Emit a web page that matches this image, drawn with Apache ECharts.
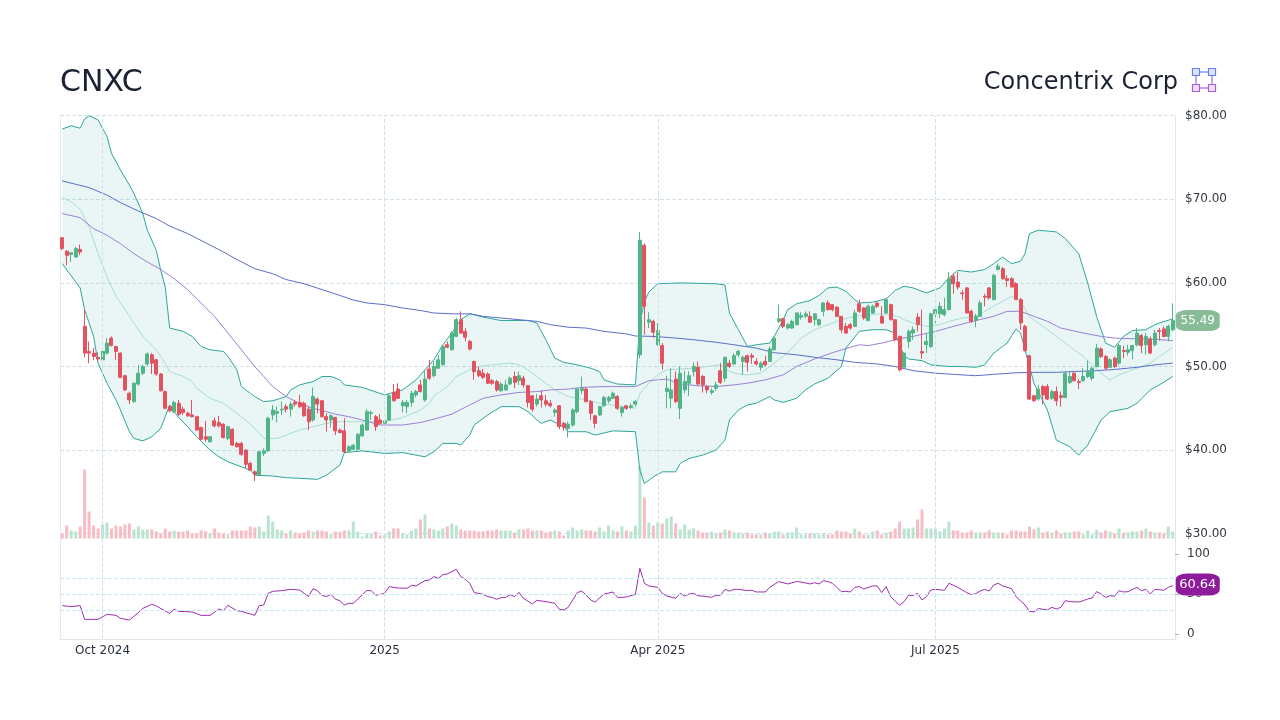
<!DOCTYPE html>
<html>
<head>
<meta charset="utf-8">
<title>CNXC</title>
<script src="https://cdn.jsdelivr.net/npm/echarts@6/dist/echarts.min.js"></script>
<style>
  html, body { margin: 0; padding: 0; background: #fff; }
  #chart { width: 1280px; height: 720px; }
</style>
</head>
<body>
<div id="chart"></div>
<script>
// trading calendar of the window
const startDate = '2024-09-18';
const holidays = ['2024-11-28', '2024-11-29', '2024-12-25', '2025-01-01', '2025-01-20',
  '2025-02-17', '2025-04-18', '2025-05-26', '2025-06-19', '2025-07-04', '2025-09-01'];
const tickLabels = [[9, 'Oct 2024'], [72, '2025'], [133, 'Apr 2025'], [195, 'Jul 2025']];

// [open, close, low, high]
const candles = [
  [65.4,64.1,63.9,65.5],[63.8,63.3,62.1,63.9],[63.4,63.6,62.5,63.7],[63.1,64.1,63.0,64.3],[64.0,63.7,63.3,64.6],
  [54.8,51.6,51.1,56.8],[51.8,51.6,50.4,53.0],[51.6,51.2,50.8,52.2],[51.1,50.9,50.6,51.7],[50.8,51.8,50.7,52.2],
  [51.6,52.8,51.4,53.4],[53.4,52.5,52.4,53.6],[52.4,51.8,50.8,52.4],[51.6,48.7,48.6,51.7],[48.9,47.2,47.1,49.0],
  [46.8,46.0,45.5,47.0],[45.8,48.0,45.7,48.1],[47.9,49.2,47.7,50.2],[49.2,50.0,49.0,50.2],[50.3,51.5,50.1,51.7],
  [51.4,50.4,49.1,51.6],[50.8,49.1,48.9,50.9],[49.1,47.1,47.0,49.2],[47.0,45.0,44.9,47.1],[45.2,44.7,44.5,45.4],
  [44.6,45.7,44.4,45.9],[45.6,44.3,44.1,46.0],[44.9,44.5,44.2,45.2],[44.4,44.1,44.0,44.6],[44.2,44.0,43.9,46.0],
  [44.0,42.4,42.3,44.1],[42.7,41.3,41.1,42.8],[41.6,41.3,41.0,43.5],[41.0,41.6,40.9,41.7],[43.5,42.9,42.7,43.9],
  [43.3,42.9,42.7,44.1],[43.1,41.5,41.4,43.2],[41.4,42.8,41.2,42.9],[42.5,40.6,40.5,42.6],[40.8,40.4,40.3,41.0],
  [40.8,39.5,39.3,41.0],[40.0,38.3,37.8,40.1],[38.4,37.6,37.5,38.6],[37.4,37.1,36.3,37.6],[37.0,39.8,37.0,39.9],
  [39.6,39.9,39.3,40.2],[39.9,43.8,39.8,44.0],[44.2,44.8,43.6,45.4],[44.4,44.6,43.3,45.2],[44.8,44.9,44.2,45.8],
  [45.2,44.9,44.5,45.5],[44.9,45.5,44.0,45.8],[45.7,45.5,45.2,46.0],[45.7,45.2,45.0,46.6],[45.6,44.1,44.0,45.8],
  [44.9,43.4,42.4,45.2],[43.6,46.4,43.4,47.5],[46.1,45.5,44.4,46.3],[45.9,44.0,43.9,46.0],[44.0,43.6,42.2,44.4],
  [43.6,44.1,42.7,44.3],[43.9,42.3,41.8,44.0],[42.4,42.1,42.0,42.6],[42.3,39.8,39.6,43.8],[39.9,40.4,39.7,40.6],
  [40.1,40.6,40.0,40.7],[40.1,41.9,40.0,42.0],[41.7,43.0,41.6,43.2],[42.4,44.6,42.3,44.9],[44.4,44.5,43.6,44.7],
  [44.0,42.8,42.3,44.2],[43.6,43.2,43.0,44.3],[43.2,43.5,43.1,43.7],[43.6,46.5,43.5,46.7],[46.9,45.9,45.8,47.9],
  [47.3,46.2,46.1,48.0],[45.3,45.7,44.5,46.0],[45.2,45.7,44.4,46.0],[45.7,46.8,45.2,47.1],[46.6,47.0,46.3,47.2],
  [47.8,47.0,46.9,48.4],[46.0,48.5,45.8,49.6],[49.7,48.6,48.4,50.8],[48.9,50.0,48.7,50.6],[49.8,50.8,49.7,51.4],
  [50.2,52.4,50.1,52.6],[52.6,52.3,52.2,53.0],[52.0,54.0,51.9,54.2],[53.6,55.6,53.5,55.8],[55.6,54.0,53.9,56.6],
  [54.2,53.5,53.0,54.6],[53.0,52.1,51.9,53.2],[50.6,49.4,48.4,50.7],[49.5,48.9,48.7,50.0],[49.2,48.7,48.5,49.7],
  [49.1,48.0,47.9,49.3],[48.3,48.0,47.8,48.5],[48.2,47.2,47.0,48.4],[47.1,47.9,47.0,48.1],[47.2,47.8,47.1,48.4],
  [47.9,48.6,47.8,48.8],[48.8,48.1,47.4,49.4],[48.3,48.9,47.8,49.4],[48.6,47.8,47.5,48.9],[47.7,45.7,45.1,47.8],
  [46.5,44.9,44.6,46.6],[45.5,46.1,45.2,46.7],[46.5,46.0,45.1,47.1],[45.9,45.5,45.2,46.6],[45.6,45.3,45.1,46.0],
  [44.5,44.8,44.0,45.0],[45.3,42.8,42.5,45.4],[43.2,42.7,42.3,43.4],[42.6,43.1,41.5,43.4],[43.0,44.8,42.8,45.0],
  [44.6,47.3,44.4,47.4],[47.1,47.4,46.7,48.8],[47.3,45.8,45.7,47.5],[45.8,44.4,43.6,46.0],[44.1,43.2,42.6,44.2],
  [44.2,45.2,44.1,45.3],[45.3,46.3,45.2,46.5],[45.9,46.3,45.6,46.5],[46.2,46.8,46.1,47.0],[46.4,45.0,44.8,46.6],
  [44.5,45.1,44.0,45.3],[45.3,45.0,44.8,45.4],[45.1,45.3,44.9,45.6],[45.5,45.8,45.3,46.0],[51.4,65.1,51.0,66.1],
  [64.5,57.2,53.8,64.7],[55.3,55.6,54.6,56.5],[55.4,54.1,53.4,55.6],[52.6,54.3,52.5,55.2],[52.5,50.4,49.6,52.8],
  [47.0,47.4,45.0,48.9],[46.2,47.2,45.0,49.8],[48.5,45.8,45.6,49.4],[45.0,49.2,43.7,50.0],[47.2,48.2,46.8,49.5],
  [48.0,48.9,46.5,49.4],[49.4,50.0,48.8,50.5],[49.9,47.9,47.8,50.6],[48.8,47.8,46.9,49.0],[47.6,47.2,46.8,47.8],
  [46.9,47.1,46.6,47.4],[47.4,47.8,47.1,48.2],[49.5,48.1,47.9,50.4],[48.6,51.1,48.2,51.2],[50.4,50.0,49.8,50.8],
  [50.3,51.3,50.2,51.6],[51.4,51.8,51.1,52.0],[50.6,51.1,49.0,51.3],[51.3,50.5,49.4,51.4],[51.3,51.1,50.3,51.6],
  [50.6,50.3,50.1,51.0],[49.9,50.4,49.5,50.6],[50.6,50.2,50.0,51.3],[50.6,52.1,50.6,52.4],[52.0,53.4,51.9,53.6],
  [55.4,55.7,55.2,57.4],[55.7,54.8,54.6,55.8],[54.6,55.0,54.4,55.2],[54.6,55.4,54.5,55.6],[55.0,56.4,54.9,56.5],
  [55.9,56.1,55.6,56.5],[56.0,56.3,55.8,56.6],[56.0,55.3,55.2,56.6],[55.6,56.3,54.9,56.4],[55.0,55.6,54.8,55.7],
  [56.6,57.6,56.0,57.7],[57.6,56.8,56.7,57.9],[57.4,56.8,56.6,57.5],[57.1,56.0,55.9,57.2],[56.0,54.4,54.0,56.0],
  [54.8,54.0,53.9,55.2],[55.0,54.6,54.4,55.2],[54.8,56.4,54.7,56.8],[57.5,56.6,56.4,58.0],[57.0,55.8,55.6,57.1],
  [55.5,57.2,55.4,57.4],[56.4,57.2,56.3,57.4],[57.6,57.2,57.0,57.7],[56.0,55.2,55.1,57.2],[56.4,58.0,56.3,58.0],
  [57.4,55.6,55.5,57.5],[55.6,53.2,53.0,55.6],[53.6,49.6,49.4,53.7],[49.9,51.6,49.9,51.7],[53.0,54.2,52.2,54.4],
  [54.0,54.4,53.2,54.8],[55.9,55.0,54.2,56.4],[51.8,51.6,50.9,56.8],[52.6,53.0,51.6,54.0],[52.4,56.3,52.2,56.4],
  [56.3,56.8,55.2,57.2],[56.3,57.2,55.8,57.7],[56.2,56.8,56.0,58.2],[56.8,60.5,56.8,61.3],[60.8,59.9,58.7,61.1],
  [60.1,59.5,59.2,61.3],[58.8,58.7,58.0,59.1],[59.4,56.4,56.4,59.5],[56.6,55.4,55.2,56.8],[55.5,56.0,54.7,56.3],
  [56.0,57.6,55.9,57.9],[58.4,58.3,57.2,58.7],[59.4,58.2,58.0,59.5],[58.0,60.9,57.9,61.1],[61.6,62.0,61.5,62.3],
  [61.7,60.5,60.4,61.9],[60.5,60.3,59.5,60.9],[60.5,59.5,59.5,60.7],[59.9,58.0,58.0,60.1],[58.0,55.2,54.4,58.2],
  [54.8,51.9,51.8,55.0],[51.3,46.1,46.0,51.4],[46.5,45.9,45.8,46.6],[46.1,47.3,45.9,47.8],[47.6,46.6,45.5,47.8],
  [47.6,46.1,46.0,47.9],[46.2,47.0,46.0,47.2],[47.0,45.9,45.3,47.6],[46.5,46.3,45.2,47.0],[46.3,49.2,46.2,49.4],
  [48.1,48.8,47.9,49.4],[49.2,48.3,48.2,49.4],[48.2,48.1,47.3,48.5],[48.3,48.8,48.2,49.8],[48.8,49.4,48.6,50.7],
  [48.6,49.8,48.3,50.0],[50.0,52.2,49.9,52.7],[52.1,51.2,51.0,52.3],[51.2,49.8,49.6,51.4],[49.9,50.8,49.8,51.0],
  [51.0,50.0,49.8,51.2],[50.4,52.5,50.2,52.7],[51.9,51.8,51.0,52.5],[51.7,52.0,51.3,52.6],[51.9,52.5,50.9,52.6],
  [52.6,54.0,52.4,54.6],[53.7,52.5,51.6,53.9],[52.6,53.6,51.4,54.0],[53.3,51.6,51.5,53.6],[52.6,54.0,52.4,54.4],
  [54.3,54.2,53.1,54.6],[54.5,53.6,53.5,54.8],[53.6,54.8,53.0,55.0],[54.4,55.49,54.2,57.55]
];

// thousand shares
const volumes = [
  250,650,400,350,600,3450,1350,650,500,700, 800,500,650,600,700,750,450,600,450,450,
  450,350,250,500,350,400,350,350,400,250, 250,400,350,250,500,300,250,200,400,400,
  400,400,600,550,600,350,1150,850,450,400, 250,400,300,250,300,400,350,400,400,350,
  200,350,350,400,400,850,350,100,250,250, 350,150,200,350,500,500,250,200,400,500,
  950,1200,500,450,400,500,600,750,650,450, 400,400,400,350,350,400,400,450,400,400,
  400,300,450,450,500,400,400,400,300,350, 400,350,150,400,550,400,450,400,400,350,
  550,350,650,400,350,600,400,350,650,3600, 2050,800,650,800,750,1000,1100,750,450,700,
  450,500,400,300,300,350,250,300,450,400, 300,300,250,300,200,200,200,300,250,350,
  350,200,300,300,550,200,200,250,250,200, 250,200,200,400,350,350,250,500,350,200,
  200,350,400,200,300,350,500,850,500,500, 550,950,1450,500,500,500,350,500,850,400,
  400,300,300,400,300,300,300,400,300,300, 300,200,400,400,350,350,600,450,550,300,
  350,300,400,250,300,300,350,350,200,400, 200,450,300,400,350,250,500,300,300,350,
  350,400,500,350,300,300,250,600,350
];

// [candle index, value]
const upperBand = [[0,78.4],[2,78.8],[4,78.5],[5,79.6],[6,80.0],[8,79.5],[10,77.5],[11,75.5],[13,73.5],[15,71.7],
  [16,70.7],[18,68.3],[19,66.3],[21,63.9],[22,61.5],[23,59.5],[24,54.6],[27,54.2],[29,53.6],[31,52.4],[33,52.0],
  [36,51.8],[37,51.2],[39,49.6],[40,47.6],[42,46.8],[43,46.4],[45,45.8],[47,45.9],[50,46.4],[51,47.2],[53,47.8],
  [56,48.2],[58,48.8],[60,48.8],[62,48.4],[63,47.8],[67,47.5],[72,46.6],[76,47.2],[79,48.4],[81,49.6],[83,50.8],
  [85,52.6],[87,54.0],[89,55.6],[91,56.3],[92,56.2],[94,55.9],[98,55.5],[104,55.5],[106,55.2],[108,53.2],[110,51.0],
  [112,50.5],[115,50.2],[118,49.8],[120,49.4],[121,48.4],[124,47.9],[128,47.8],[129,55.2],[130,57.7],[131,58.9],
  [133,59.9],[138,60.0],[146,59.9],[148,59.75],[149,56.4],[151,54.4],[153,52.4],[155,52.6],[158,52.8],[159,53.6],
  [161,55.6],[162,56.8],[164,57.5],[167,57.9],[169,58.5],[171,59.4],[173,59.5],[175,59.0],[177,58.0],[178,57.6],
  [181,57.7],[184,58.1],[186,59.1],[188,59.6],[190,59.4],[193,58.8],[196,59.4],[198,60.6],[200,61.5],[203,61.3],
  [206,61.6],[208,62.3],[210,63.1],[212,62.3],[214,62.6],[215,63.5],[216,65.9],[218,66.3],[222,66.1],[224,65.3],
  [227,63.5],[229,60.0],[231,56.0],[233,52.8],[235,52.3],[237,53.6],[239,54.3],[242,54.4],[244,55.0],[245,55.2],
  [248,55.7]];
const lowerBand = [[0,62.3],[4,59.4],[5,56.8],[7,53.6],[8,50.4],[10,48.0],[12,46.0],[13,44.8],[15,42.2],[16,41.4],
  [18,41.1],[20,41.6],[22,42.6],[23,44.0],[24,45.4],[25,44.6],[26,43.9],[28,42.8],[30,41.6],[33,40.0],[35,39.2],
  [37,38.6],[39,38.2],[42,37.6],[43,37.0],[47,36.9],[50,36.7],[54,36.6],[57,36.5],[59,37.0],[62,38.2],[63,39.7],
  [67,39.9],[72,39.6],[76,39.7],[79,39.4],[81,39.2],[83,39.8],[85,40.8],[88,40.8],[89,40.6],[91,41.8],[92,43.0],
  [95,44.2],[98,45.2],[102,45.2],[104,44.6],[106,43.6],[107,43.2],[109,43.6],[112,42.8],[113,42.2],[117,42.2],
  [119,41.8],[123,42.3],[128,42.2],[129,37.6],[130,36.0],[132,36.8],[134,37.4],[137,37.4],[138,38.4],[140,39.0],
  [143,39.4],[146,40.0],[148,41.2],[149,43.6],[151,44.8],[153,45.4],[155,45.6],[158,46.4],[159,46.0],[161,45.7],
  [164,46.2],[166,47.2],[168,47.9],[171,48.6],[174,50.0],[175,52.2],[178,54.2],[181,54.4],[184,54.4],[186,54.0],
  [187,52.6],[188,51.3],[189,50.9],[192,50.7],[194,50.2],[198,50.0],[201,50.0],[204,49.9],[206,50.2],[208,51.6],
  [210,52.4],[211,52.8],[213,54.5],[214,54.0],[215,52.0],[217,48.0],[220,44.8],[222,41.2],[225,40.4],[227,39.4],
  [229,40.6],[232,43.6],[234,44.6],[238,45.0],[240,45.6],[243,47.2],[245,47.8],[248,48.8]];
const middleBand = [[0,70.2],[2,69.7],[4,68.8],[6,66.7],[8,63.5],[10,60.7],[12,58.4],[15,56.0],[16,55.2],[18,53.6],
  [21,52.0],[23,50.4],[24,49.4],[27,48.8],[29,48.2],[30,47.4],[33,46.2],[36,45.6],[38,44.8],[40,44.0],[43,42.6],
  [45,41.4],[48,41.4],[50,41.8],[53,42.4],[56,42.8],[59,43.2],[62,43.4],[65,43.4],[72,43.4],[76,43.9],[80,44.8],
  [82,45.6],[83,46.5],[86,47.6],[88,48.8],[91,49.6],[93,50.0],[96,50.2],[100,50.4],[102,50.2],[104,49.6],[107,48.4],
  [110,47.2],[113,46.4],[117,46.0],[120,45.6],[124,45.3],[128,45.0],[129,46.8],[131,48.0],[133,49.0],[135,49.6],
  [138,49.7],[141,49.8],[144,50.0],[147,50.2],[149,49.4],[151,49.1],[153,49.0],[156,49.2],[158,50.0],[161,51.2],
  [163,52.2],[165,53.4],[168,54.4],[171,55.0],[174,55.6],[177,56.0],[180,56.2],[183,56.3],[185,56.2],[187,55.9],
  [188,55.6],[190,55.2],[193,54.8],[196,55.0],[198,55.4],[201,55.8],[204,56.0],[206,56.6],[208,57.2],[210,57.8],
  [212,58.4],[214,57.8],[216,56.0],[219,54.8],[222,53.6],[225,52.4],[228,51.2],[230,50.2],[232,49.2],[234,48.4],
  [236,49.0],[240,49.8],[243,50.4],[245,51.2],[248,52.3]];
const ma200 = [[0,72.2],[6,71.4],[10,70.5],[13,69.6],[17,68.6],[21,67.7],[24,66.8],[28,65.9],[32,64.8],[36,63.7],
  [39,62.8],[43,61.7],[47,61.1],[50,60.4],[54,59.9],[58,59.2],[62,58.5],[65,57.95],[68,57.6],[72,57.4],[76,57.0],
  [80,56.7],[83,56.4],[87,56.3],[91,56.3],[94,56.0],[98,55.8],[102,55.6],[106,55.4],[109,55.0],[113,54.7],[117,54.6],
  [121,54.2],[126,53.9],[128,53.65],[132,53.6],[137,53.4],[141,53.2],[146,52.9],[150,52.6],[155,52.2],[159,51.65],
  [164,51.4],[168,51.1],[173,50.8],[177,50.5],[182,50.3],[186,50.0],[190,49.5],[195,49.2],[199,49.06],[204,48.9],
  [208,49.06],[213,49.25],[217,49.3],[222,49.3],[226,49.4],[231,49.5],[235,49.65],[240,49.9],[244,50.2],[248,50.4]];
const ma50 = [[0,68.3],[4,67.8],[7,66.5],[10,65.7],[13,64.7],[16,63.5],[19,62.5],[22,61.6],[25,60.5],[28,59.2],
  [31,57.6],[34,56.0],[37,54.0],[40,52.0],[43,50.0],[45,48.8],[47,47.6],[50,46.4],[53,45.6],[56,45.0],[59,44.6],
  [61,44.3],[64,44.0],[67,43.6],[71,43.0],[76,43.0],[80,43.3],[83,43.7],[87,44.3],[91,45.4],[94,46.2],[98,46.6],
  [102,46.9],[106,47.0],[109,47.2],[113,47.3],[116,47.5],[121,47.6],[128,47.6],[131,48.3],[135,48.5],[138,47.9],
  [142,47.7],[146,47.6],[150,47.8],[153,48.0],[157,48.4],[161,49.0],[164,50.0],[168,50.9],[172,51.65],[176,52.3],
  [178,52.6],[180,52.5],[183,52.8],[186,53.2],[190,53.6],[195,54.2],[199,54.8],[204,55.5],[208,56.0],[211,56.6],
  [214,56.6],[216,56.2],[220,55.4],[223,54.6],[228,54.0],[232,53.6],[235,53.4],[240,53.3],[244,53.25],[248,53.1]];
const rsi = [[0,35.7],[2,34.4],[4,35.7],[5,18.6],[8,18.6],[10,24.9],[12,23.6],[13,19.9],[15,17.8],[17,27.0],
  [18,32.3],[20,37.3],[21,35.3],[23,29.0],[24,26.1],[25,31.1],[26,28.6],[29,27.8],[31,23.6],[33,23.6],[35,31.5],
  [36,29.4],[37,36.1],[39,29.4],[40,28.6],[42,25.3],[43,23.6],[44,35.7],[45,36.5],[46,51.0],[47,53.5],[49,54.4],
  [51,56.0],[53,55.2],[55,46.9],[56,56.8],[57,54.4],[58,48.5],[59,46.9],[60,49.8],[61,43.6],[62,41.9],[63,36.5],
  [64,38.6],[65,38.6],[68,54.4],[69,54.4],[70,48.5],[72,51.0],[73,59.3],[75,57.7],[77,57.3],[78,61.0],[79,60.2],
  [81,66.8],[82,67.6],[83,71.8],[84,69.7],[85,74.3],[86,75.1],[88,80.9],[89,71.8],[90,68.5],[91,63.5],[92,51.9],
  [94,49.8],[95,46.9],[96,46.0],[97,43.6],[98,45.6],[99,46.0],[100,49.4],[101,46.9],[102,52.3],[103,44.8],[105,37.7],
  [106,42.3],[108,40.7],[110,38.6],[111,31.1],[112,30.3],[113,33.6],[114,42.7],[115,51.9],[116,53.9],[117,49.0],
  [118,42.7],[119,40.2],[121,50.2],[122,51.4],[123,52.7],[124,46.0],[125,46.0],[126,46.5],[128,49.8],[129,82.2],
  [130,63.5],[131,60.2],[133,58.5],[134,51.0],[135,47.7],[137,44.8],[138,51.0],[139,47.7],[140,50.2],[141,51.0],
  [142,48.1],[144,46.9],[145,46.0],[146,48.5],[147,48.5],[148,56.0],[149,53.9],[150,56.0],[151,56.0],[153,54.4],
  [154,54.8],[155,52.7],[157,52.7],[158,58.5],[160,65.6],[162,62.7],[164,65.6],[165,65.1],[167,62.7],[168,64.3],
  [169,62.7],[170,66.8],[171,65.6],[172,63.5],[174,53.1],[175,53.5],[176,52.7],[177,58.5],[178,59.3],[179,56.4],
  [181,60.2],[182,60.2],[183,51.9],[184,59.3],[185,46.9],[187,36.1],[188,40.7],[189,48.5],[190,48.5],[191,51.0],
  [192,42.7],[193,46.9],[194,55.2],[195,56.0],[197,54.8],[198,63.5],[199,61.0],[200,58.5],[202,51.9],[203,49.4],
  [204,50.6],[205,53.9],[206,56.0],[207,53.9],[208,61.4],[209,63.5],[210,60.2],[212,56.8],[213,46.9],[215,36.5],
  [216,28.6],[217,27.8],[218,32.3],[219,31.1],[220,30.3],[221,33.6],[222,31.5],[223,33.6],[224,41.9],[225,40.7],
  [227,40.2],[228,41.9],[229,44.0],[230,45.2],[231,53.1],[232,50.2],[233,46.0],[234,48.1],[235,47.3],[236,54.4],
  [237,52.7],[238,53.1],[240,58.5],[241,54.4],[242,56.0],[243,50.2],[244,56.0],[245,55.5],[246,54.8],[247,58.5],
  [248,60.64]];
const rsiLevels = [30, 50, 70];
const priceTicks = [30, 40, 50, 60, 70, 80];
const rsiTicks = [0, 50, 100];

function tradingDays(start, count) {
  const out = [];
  const d = new Date(start + 'T00:00:00Z');
  while (out.length < count) {
    const s = d.toISOString().slice(0, 10);
    const wd = d.getUTCDay();
    if (wd !== 0 && wd !== 6 && !holidays.includes(s)) out.push(s);
    d.setUTCDate(d.getUTCDate() + 1);
  }
  return out;
}

const dates = tradingDays(startDate, candles.length);
const tickMap = new Map(tickLabels);
const lastIdx = candles.length - 1;
const lastClose = candles[lastIdx][1];
const lastRsi = rsi[rsi.length - 1][1];

const UP = '#52b587', DOWN = '#e2525f';
const GRID_LINE = '#d3e2ea';
const FONT = 'DejaVu Sans';

const volumeData = volumes.map((v, i) => ({
  value: v,
  itemStyle: { color: candles[i][1] >= candles[i][0] ? '#b9e4cf' : '#f7bcc4' }
}));

function lineSeries(data, color) {
  return {
    type: 'line', data, xAxisIndex: 0, yAxisIndex: 0,
    symbol: 'none', silent: true, z: 2,
    lineStyle: { color, width: 1 }
  };
}

const catAxis = (gridIndex, extra) => Object.assign({
  type: 'category', gridIndex, data: dates, boundaryGap: true,
  axisLine: { show: false }, axisTick: { show: false },
  axisLabel: { show: false }, splitLine: { show: false }
}, extra || {});

const chart = echarts.init(document.getElementById('chart'), null, { renderer: 'canvas' });

chart.setOption({
  animation: false,
  backgroundColor: '#fff',
  textStyle: { fontFamily: FONT },
  graphic: [
    { type: 'text', x: 60, y: 83, style: { text: 'CNXC', font: '30px "DejaVu Sans"', fill: '#1c2233', verticalAlign: 'middle' } },
    { type: 'text', x: 1178, y: 83, style: { text: 'Concentrix Corp', font: '24px "DejaVu Sans"', fill: '#1c2233', align: 'right', verticalAlign: 'middle' } },
    { type: 'group', children: [
      { type: 'line', shape: { x1: 1196, y1: 72, x2: 1212, y2: 72 }, style: { stroke: '#6f8cf6', lineWidth: 1.3 } },
      { type: 'line', shape: { x1: 1196, y1: 88, x2: 1212, y2: 88 }, style: { stroke: '#b36ae9', lineWidth: 1.3 } },
      { type: 'line', shape: { x1: 1196, y1: 72, x2: 1196, y2: 88 }, style: { stroke: '#9a7bef', lineWidth: 1.3 } },
      { type: 'line', shape: { x1: 1212, y1: 72, x2: 1212, y2: 88 }, style: { stroke: '#9a7bef', lineWidth: 1.3 } },
      { type: 'rect', shape: { x: 1192.5, y: 68.5, width: 7, height: 7 }, style: { fill: '#dde5fd', stroke: '#6283f5', lineWidth: 1.2 } },
      { type: 'rect', shape: { x: 1208.5, y: 68.5, width: 7, height: 7 }, style: { fill: '#dde5fd', stroke: '#6283f5', lineWidth: 1.2 } },
      { type: 'rect', shape: { x: 1192.5, y: 84.5, width: 7, height: 7 }, style: { fill: '#efdffb', stroke: '#ad5ee8', lineWidth: 1.2 } },
      { type: 'rect', shape: { x: 1208.5, y: 84.5, width: 7, height: 7 }, style: { fill: '#efdffb', stroke: '#ad5ee8', lineWidth: 1.2 } }
    ] }
  ],
  grid: [
    { left: 60, width: 1115, top: 115.7, height: 418 },
    { left: 60, width: 1115, top: 440, height: 98.5 },
    { left: 60, width: 1115, top: 545, height: 94 },
    { left: 60, width: 1115, top: 115.7, height: 523.3 }
  ],
  xAxis: [
    catAxis(0),
    catAxis(1),
    catAxis(2, {
      axisLine: { show: true, onZero: false, lineStyle: { color: '#dde7ed' } },
      axisLabel: {
        show: true, interval: (i) => tickMap.has(i),
        formatter: (v, i) => tickMap.get(i) || '',
        color: '#2a2f3d', fontSize: 12, margin: 6
      }
    }),
    catAxis(3)
  ],
  yAxis: [
    {
      type: 'value', gridIndex: 0, position: 'right', min: 30, max: 80, interval: 10,
      axisLine: { show: true, lineStyle: { color: '#dde7ed' } }, axisTick: { show: false },
      axisLabel: { color: '#333842', fontSize: 12, margin: 10, formatter: (v) => '$' + v.toFixed(2),
        customValues: priceTicks },
      splitLine: { show: true, lineStyle: { color: GRID_LINE, type: 'dashed' } }
    },
    { type: 'value', gridIndex: 1, min: 0, max: 4925, show: false },
    {
      type: 'value', gridIndex: 2, position: 'right', min: -5.85, max: 111.2,
      axisLine: { show: true, lineStyle: { color: '#cbdbe4' } },
      axisTick: { show: true, length: 4, lineStyle: { color: '#9fb6c3' }, customValues: rsiTicks },
      axisLabel: { color: '#333842', fontSize: 12, margin: 12, customValues: rsiTicks },
      splitLine: { show: false }
    },
    {
      type: 'value', gridIndex: 3, position: 'right', min: 0, max: 1,
      axisLine: { show: true, lineStyle: { color: '#dde7ed' } },
      axisTick: { show: false }, axisLabel: { show: false }, splitLine: { show: false }
    },
    {
      type: 'value', gridIndex: 3, position: 'left', min: 0, max: 1,
      axisLine: { show: true, onZero: false, lineStyle: { color: '#e3ebf0' } },
      axisTick: { show: false }, axisLabel: { show: false }, splitLine: { show: false }
    }
  ],
  series: [
    {
      // month gridlines across all panels
      type: 'line', xAxisIndex: 3, yAxisIndex: 3, data: dates.map(() => null), z: 0, silent: true,
      markLine: {
        silent: true, symbol: ['none', 'none'], label: { show: false }, animation: false,
        lineStyle: { color: GRID_LINE, type: 'dashed', width: 1 },
        data: tickLabels.map(([i]) => ({ xAxis: dates[i] }))
      }
    },
    {
      type: 'custom', xAxisIndex: 0, yAxisIndex: 0, data: [[0, 50]], silent: true, z: 1,
      renderItem: (params, api) => {
        if (params.dataIndex !== 0) return null;
        const pts = upperBand.map((d) => api.coord(d))
          .concat(lowerBand.slice().reverse().map((d) => api.coord(d)));
        return { type: 'polygon', shape: { points: pts }, style: { fill: 'rgba(42,166,153,0.1)' } };
      }
    },
    lineSeries(middleBand, '#a7ddd4'),
    lineSeries(upperBand, '#2ea69a'),
    lineSeries(lowerBand, '#2ea69a'),
    lineSeries(ma200, '#5b6fca'),
    lineSeries(ma50, '#9b80d6'),
    {
      type: 'candlestick', xAxisIndex: 0, yAxisIndex: 0, data: candles, barWidth: 3.5, z: 3,
      itemStyle: { color: UP, color0: DOWN, borderColor: UP, borderColor0: DOWN, borderWidth: 1 },
      markPoint: {
        symbol: 'roundRect', symbolSize: [44, 21], symbolOffset: [25, 0], silent: true, animation: false,
        itemStyle: { color: '#88bb98' },
        label: { show: true, color: '#fff', fontSize: 12, formatter: () => lastClose.toFixed(2) },
        data: [{ coord: [dates[lastIdx], lastClose] }]
      }
    },
    {
      type: 'bar', xAxisIndex: 1, yAxisIndex: 1, data: volumeData, barWidth: 3, silent: true, z: 2
    },
    {
      type: 'line', xAxisIndex: 2, yAxisIndex: 2, data: rsi, symbol: 'none', silent: true, z: 3,
      lineStyle: { color: '#9c2fb0', width: 1 },
      markLine: {
        silent: true, symbol: ['none', 'none'], label: { show: false }, animation: false,
        lineStyle: { color: '#c3e9f6', type: 'dashed', width: 1 },
        data: rsiLevels.map((v) => ({ yAxis: v }))
      },
      markPoint: {
        symbol: 'roundRect', symbolSize: [44, 22], symbolOffset: [25, -1], silent: true, animation: false,
        itemStyle: { color: '#8e1b9c' },
        label: { show: true, color: '#fff', fontSize: 13, formatter: () => lastRsi.toFixed(2) },
        data: [{ coord: [dates[lastIdx], lastRsi] }]
      }
    }
  ]
});
</script>
</body>
</html>
